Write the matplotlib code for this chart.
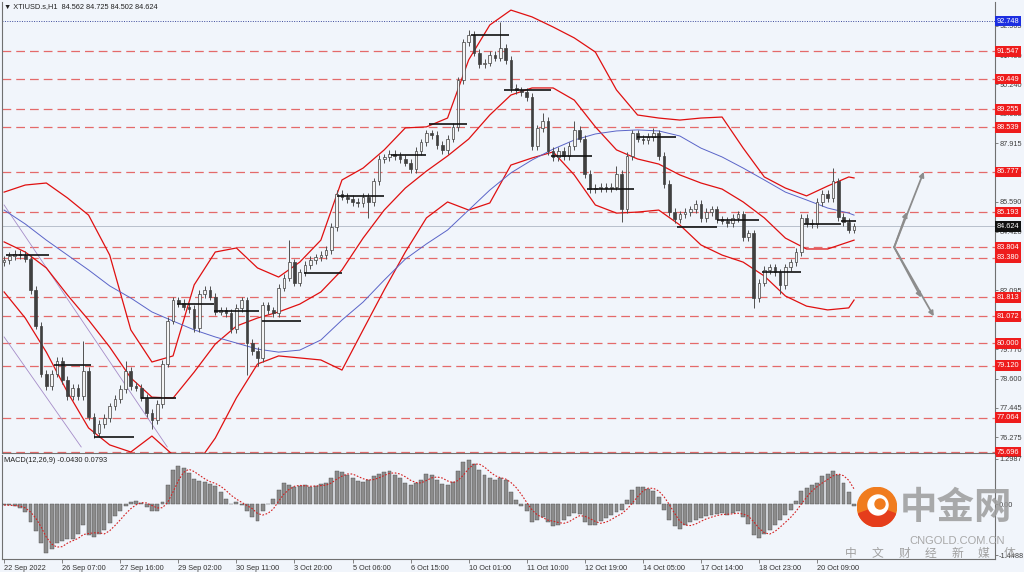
import matplotlib
matplotlib.use('Agg')
import matplotlib.pyplot as plt
import matplotlib.transforms as mtransforms
from matplotlib.patches import Circle, Wedge
import numpy as np
import pandas as pd

plt.rcParams['font.family'] = ['Liberation Sans', 'DejaVu Sans']

# ---- data (3-hour candles) ----
first_open = 83.20
closes = [
    83.30, 83.45, 83.55, 83.50, 83.35, 82.10, 80.70, 78.80, 78.30, 78.80,
    79.30, 78.55, 77.90, 78.25, 77.90, 78.90, 77.10, 76.45, 76.80, 77.05,
    77.50, 77.80, 78.20, 78.90, 78.30, 78.25, 77.85, 77.25, 76.95, 77.60,
    79.20, 80.90, 81.70, 81.60, 81.45, 81.35, 80.60, 81.95, 82.10, 81.85,
    81.25, 81.30, 81.20, 80.55, 81.40, 81.70, 80.00, 79.70, 79.40, 81.50,
    81.30, 81.20, 82.20, 82.60, 83.20, 82.40, 82.80, 83.10, 83.30, 83.40,
    83.50, 83.70, 84.60, 85.90, 85.80, 85.70, 85.60, 85.55, 85.80, 85.60,
    86.40, 87.30, 87.35, 87.50, 87.40, 87.30, 87.15, 86.90, 87.60, 87.95,
    88.30, 88.25, 87.85, 87.65, 88.10, 88.55, 90.40, 91.90, 92.20, 91.50,
    91.05, 91.10, 91.40, 91.30, 91.70, 91.20, 90.10, 90.00, 89.95, 89.75,
    87.80, 88.50, 88.80, 87.60, 87.35, 87.60, 87.40, 87.80, 88.45, 88.10,
    86.70, 86.10, 86.15, 86.20, 86.15, 86.20, 86.70, 85.30, 87.40, 88.30,
    88.10, 88.05, 88.15, 88.30, 87.40, 86.30, 85.20, 84.90, 85.10, 85.20,
    85.30, 85.50, 84.95, 85.20, 85.30, 84.90, 84.85, 84.75, 84.95, 85.10,
    84.20, 84.35, 81.80, 82.40, 82.90, 83.00, 82.80, 82.30, 83.00, 83.20,
    83.60, 84.95, 84.75, 84.70, 85.60, 85.90, 85.75, 86.40, 85.00, 84.80,
    84.50, 84.62]
spike_high = {15: 80.10, 23: 79.30, 54: 84.10, 88: 92.40, 94: 92.70,
              102: 89.10, 108: 88.80, 116: 87.00, 123: 88.50, 157: 86.95}
spike_low = {17: 76.25, 28: 76.60, 46: 78.75, 48: 79.10, 69: 84.95,
             117: 84.80, 142: 81.40, 147: 81.95}

macd = [
    -0.02, -0.03, -0.05, -0.10, -0.22, -0.50, -0.75, -1.10, -1.40, -1.28,
    -1.10, -1.05, -1.00, -1.00, -0.85, -0.60, -0.88, -0.92, -0.85, -0.72,
    -0.52, -0.33, -0.20, -0.04, 0.08, 0.11, 0.05, -0.08, -0.20, -0.18,
    0.08, 0.55, 0.98, 1.09, 1.04, 0.90, 0.72, 0.67, 0.63, 0.58,
    0.52, 0.35, 0.15, 0.02, 0.08, -0.02, -0.20, -0.35, -0.47, -0.20,
    0.00, 0.15, 0.42, 0.60, 0.55, 0.50, 0.52, 0.55, 0.50, 0.52,
    0.58, 0.60, 0.75, 0.95, 0.92, 0.85, 0.75, 0.68, 0.65, 0.70,
    0.80, 0.88, 0.92, 0.95, 0.85, 0.75, 0.60, 0.55, 0.60, 0.70,
    0.88, 0.85, 0.70, 0.58, 0.55, 0.65, 0.95, 1.20, 1.28, 1.15,
    0.98, 0.85, 0.75, 0.70, 0.75, 0.70, 0.35, 0.12, -0.05, -0.20,
    -0.50, -0.45, -0.35, -0.50, -0.62, -0.60, -0.45, -0.32, -0.25, -0.28,
    -0.50, -0.60, -0.58, -0.48, -0.38, -0.30, -0.22, -0.15, 0.12, 0.40,
    0.50, 0.50, 0.45, 0.38, 0.20, -0.15, -0.45, -0.62, -0.70, -0.60,
    -0.50, -0.45, -0.38, -0.33, -0.30, -0.27, -0.26, -0.30, -0.25, -0.20,
    -0.35, -0.55, -0.88, -0.95, -0.85, -0.72, -0.58, -0.45, -0.30, -0.15,
    0.10, 0.38, 0.48, 0.55, 0.62, 0.80, 0.88, 0.95, 0.85, 0.60,
    0.35, -0.04]

# bands sampled every 4th candle
band_idx = list(range(0, 161, 4)) + [161]
bb_upper = [85.98, 86.26, 86.34, 85.75, 85.07, 83.49, 80.53, 79.26, 79.50, 82.31,
            83.61, 83.77, 82.98, 82.62, 83.21, 84.08, 86.46, 86.93, 87.65, 88.52,
            88.56, 88.91, 91.21, 92.59, 93.18, 92.91, 92.51, 92.08, 91.52, 90.02,
            89.03, 88.91, 88.83, 88.91, 88.95, 87.72, 86.58, 86.14, 85.83, 86.22,
            86.58, 86.54]
bb_mid = [84.01, 83.61, 82.98, 81.91, 80.92, 79.85, 78.63, 77.87, 77.83, 78.86,
          79.97, 80.68, 81.00, 81.24, 81.55, 82.03, 82.90, 84.16, 85.27, 86.14,
          86.81, 87.41, 88.08, 89.03, 89.82, 90.10, 90.10, 89.62, 88.56, 87.65,
          87.29, 87.09, 86.66, 86.34, 86.10, 85.59, 84.96, 84.16, 83.73, 83.73,
          84.01, 84.08]
bb_lower = [82.03, 81.00, 79.65, 78.07, 76.65, 75.98, 75.70, 76.33, 75.58, 75.07,
            76.25, 77.84, 79.18, 79.50, 79.42, 79.34, 78.94, 80.53, 82.11, 83.61,
            84.96, 85.59, 85.27, 85.55, 87.05, 87.33, 87.57, 86.66, 85.47, 85.15,
            85.19, 85.27, 84.68, 83.89, 83.49, 83.21, 82.66, 81.87, 81.47, 81.32,
            81.40, 81.71]
ma_blue = [85.27, 84.72, 84.08, 83.49, 82.90, 82.27, 81.79, 81.24, 80.88, 80.53,
           80.25, 80.01, 79.77, 79.65, 79.73, 80.13, 80.92, 81.63, 82.50, 83.33,
           83.93, 84.48, 85.27, 86.06, 86.74, 87.25, 87.68, 88.04, 88.28, 88.40,
           88.44, 88.40, 88.20, 87.72, 87.37, 86.93, 86.46, 85.98, 85.67, 85.35,
           85.15, 85.07]

# trend lines (candle index, price)
trend1_x, trend1_y = [0, 30.9], [85.47, 75.90]
trend2_x, trend2_y = [0, 14.6], [80.25, 75.90]

# black pivot segments: start idx, end idx, price
piv_x0 = [0.4, 9.5, 17.0, 26.0, 32.8, 39.8, 48.9, 56.8, 63.1, 73.3, 80.5, 88.4, 94.7, 103.6, 110.4, 119.9, 127.5, 135.0, 143.6, 151.5, 158.5]
piv_x1 = [8.5, 16.5, 24.6, 32.6, 39.8, 48.3, 56.2, 64.0, 72.0, 80.0, 87.7, 95.6, 103.6, 111.4, 119.3, 127.3, 135.0, 143.0, 151.0, 158.5, 161.4]
piv_y = [83.49, 79.14, 76.29, 77.84, 81.55, 81.28, 80.88, 82.78, 85.83, 87.45, 88.67, 92.19, 90.02, 87.41, 86.10, 88.16, 84.60, 84.88, 82.82, 84.72, 84.84]

# projection arrows
proj_up_x, proj_up_y = [168.6, 171.0, 174.2], [83.80, 85.19, 86.78]
proj_dn_x, proj_dn_y = [168.6, 173.7, 176.1], [83.80, 81.81, 81.07]

levels = [91.547, 90.449, 89.255, 88.539, 86.777, 85.193, 83.804, 83.380,
          81.813, 81.072, 80.000, 79.120, 77.064, 75.696]
top_level = 92.748
last_price = 84.624
price_ticks = [76.275, 77.445, 78.600, 79.770, 80.940, 82.095, 83.265, 84.420,
               85.590, 86.750, 87.915, 89.085, 90.240, 91.400, 92.565]

date_labels = ['22 Sep 2022', '26 Sep 07:00', '27 Sep 16:00', '29 Sep 02:00',
               '30 Sep 11:00', '3 Oct 20:00', '5 Oct 06:00', '6 Oct 15:00',
               '10 Oct 01:00', '11 Oct 10:00', '12 Oct 19:00', '14 Oct 05:00',
               '17 Oct 14:00', '18 Oct 23:00', '20 Oct 09:00']
date_pos = list(range(0, 155, 11))

# ---- figure ----
BG = '#f1f5fb'
FS = 5.3
W, H = 1024, 572
fig = plt.figure(figsize=(W / 100, H / 100), dpi=100, facecolor=BG)


def px_axes(x0, y0, x1, y1):
    return fig.add_axes([x0 / W, 1 - y1 / H, (x1 - x0) / W, (y1 - y0) / H])


ax = px_axes(2, 2, 995, 453)
axm = px_axes(2, 455, 995, 559)
XL = (-0.4, 187.7)

for a in (ax, axm):
    a.set_facecolor(BG)
    a.set_xlim(*XL)
    for s in a.spines.values():
        s.set_color('#707070')
        s.set_linewidth(0.8)
    a.spines['top'].set_visible(False)
    a.yaxis.tick_right()
    a.tick_params(axis='y', direction='out', length=2, width=0.6, colors='#707070',
                  labelsize=FS, labelcolor='#404040', pad=1)

ax.set_ylim(75.66, 93.50)
ax.set_xticks([])

idx = np.arange(len(closes))
c = np.array(closes)
o = np.r_[first_open, c[:-1]]
hi = np.maximum(o, c) + 0.15
lo = np.minimum(o, c) - 0.15
for k, v in spike_high.items():
    hi[k] = v
for k, v in spike_low.items():
    lo[k] = v

# levels
for lv in levels:
    ax.axhline(lv, color='#e46a6a', lw=0.9, ls=(0, (7, 4)), zorder=1)
ax.axhline(top_level, color='#3c4a9c', lw=0.7, ls=(0, (1, 1.5)), zorder=1)
ax.axhline(last_price, color='#b8c0cc', lw=0.7, zorder=1)

# indicators
ax.plot(band_idx, bb_upper, color='#e01010', lw=0.9, zorder=3)
ax.plot(band_idx, bb_mid, color='#e01010', lw=0.9, zorder=3)
ax.plot(band_idx, bb_lower, color='#e01010', lw=0.9, zorder=3)
ax.plot(band_idx, ma_blue, color='#5a64c8', lw=0.7, zorder=3)
ax.plot(trend1_x, trend1_y, color='#a58cc8', lw=0.6, zorder=2)
ax.plot(trend2_x, trend2_y, color='#a58cc8', lw=0.6, zorder=2)

# candles
ax.vlines(idx, lo, hi, color='#505050', lw=0.7, zorder=4)
up = c >= o
body = np.maximum(np.abs(c - o), 0.04)
ax.bar(idx[up], body[up], bottom=np.minimum(o, c)[up], width=0.5,
       color='#f4f4f4', edgecolor='#404040', lw=0.5, zorder=5)
ax.bar(idx[~up], body[~up], bottom=np.minimum(o, c)[~up], width=0.5,
       color='#404040', edgecolor='#404040', lw=0.5, zorder=5)

ax.hlines(piv_y, piv_x0, piv_x1, colors='#111111', lw=1.2, zorder=6)

# projection arrows
ap = dict(arrowstyle='-|>', color='#8c8c8c', lw=1.3, mutation_scale=7, shrinkA=0, shrinkB=0)
for px, py in ((proj_up_x, proj_up_y), (proj_dn_x, proj_dn_y)):
    ax.annotate('', xy=(px[2], py[2]), xytext=(px[0], py[0]), arrowprops=ap, zorder=6)
    ax.annotate('', xy=(px[1], py[1]), xytext=(px[0], py[0]), arrowprops=ap, zorder=6)

# right price axis
ax.set_yticks(price_ticks)
ax.set_yticklabels([f'{t:.3f}' for t in price_ticks])
tr = mtransforms.blended_transform_factory(ax.transAxes, ax.transData)


def tag(v, fc):
    ax.text(1.002, v, f'{v:.3f}', transform=tr, ha='left', va='center', fontsize=FS,
            color='white', clip_on=False, zorder=10,
            bbox=dict(boxstyle='square,pad=0.25', fc=fc, ec='none'))


for lv in levels:
    tag(lv, '#ee1c1c')
tag(top_level, '#1c2ee0')
tag(last_price, '#111111')

fig.text(4 / W, 1 - 7 / H, '\u25bc XTIUSD.s,H1  84.562 84.725 84.502 84.624',
         fontsize=FS, color='#222222', va='center', ha='left')

# MACD panel
axm.set_ylim(-1.56, 1.41)
axm.bar(idx, macd, width=0.75, color='#8c8c8c', edgecolor='#4a4a4a', lw=0.3, zorder=3)
signal = pd.Series(macd).rolling(4, min_periods=1).mean()
axm.plot(idx, signal, color='#d42020', lw=0.8, ls=(0, (1.5, 1.5)), zorder=4)
axm.set_yticks([-1.4488, 0, 1.2987])
axm.set_yticklabels(['-1.4488', '0.00', '1.2987'])
axm.set_xticks(date_pos)
axm.set_xticklabels(date_labels, ha='left')
axm.tick_params(axis='x', direction='out', length=3, width=0.6, colors='#707070',
                labelsize=FS, labelcolor='#333333', pad=1.5)
fig.text(4 / W, 1 - 460 / H, 'MACD(12,26,9) -0.0430 0.0793', fontsize=FS,
         color='#222222', va='center', ha='left')

# watermark
lg = px_axes(857, 487, 897, 527)
lg.set_xlim(-1, 1)
lg.set_ylim(-1, 1)
lg.axis('off')
lg.add_patch(Circle((0, 0), 0.98, color='#f07c1e'))
lg.add_patch(Wedge((0, 0), 0.98, 200, 340, color='#e53d1c'))
lg.add_patch(Circle((0.05, 0.1), 0.5, color='white'))
lg.add_patch(Circle((0.15, 0.15), 0.25, color='#f07c1e'))
fig.text(956 / W, 1 - 508 / H, '中金网', fontsize=27, fontweight='bold', color='#9c9c9c',
         alpha=0.85, ha='center', va='center', family=['Noto Sans CJK SC'])
fig.text(957 / W, 1 - 541 / H, 'CNGOLD.COM.CN', fontsize=8, color='#a8a8a8',
         ha='center', va='center')
for k, ch in enumerate('中文财经新媒体'):
    fig.text((851 + 26.5 * k) / W, 1 - 553 / H, ch, fontsize=8.5, color='#a0a0a0',
             ha='center', va='center', family=['Noto Sans CJK SC'])

fig.savefig('out.png', dpi=100, facecolor=BG)
